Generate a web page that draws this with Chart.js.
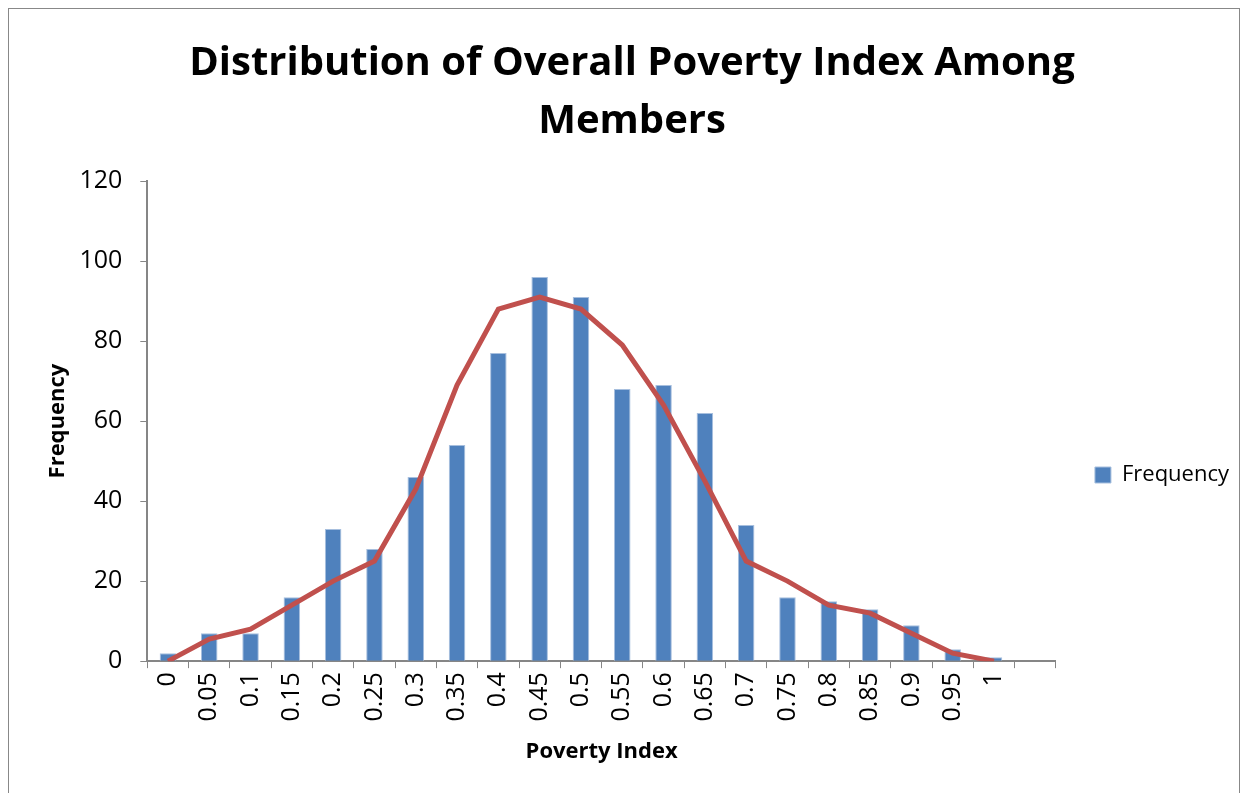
<!DOCTYPE html>
<html>
<head>
<meta charset="utf-8">
<script src="https://cdn.jsdelivr.net/npm/chart.js@4"></script>
<style>
    body { margin: 0; background: #fff; overflow: hidden; }
    #frame {
        position: absolute; left: 8px; top: 8px;
        width: 1232px; height: 800px;
        border: 1px solid #888; box-sizing: border-box;
    }
    #wrap { position: absolute; left: 9px; top: 9px; width: 1230px; height: 782px; }
</style>
</head>
<body>
<div id="frame"></div>
<div id="wrap"><canvas id="chart"></canvas></div>
<script>
// ===== DATA =====
var povertyIndex = ['0', '0.05', '0.1', '0.15', '0.2', '0.25', '0.3', '0.35', '0.4', '0.45', '0.5',
    '0.55', '0.6', '0.65', '0.7', '0.75', '0.8', '0.85', '0.9', '0.95', '1', ''];
var frequency = [2, 7, 7, 16, 33, 28, 46, 54, 77, 96, 91, 68, 69, 62, 34, 16, 15, 13, 9, 3, 1, null];
var fittedCurve = [0, 5.5, 8, 14, 20, 25, 43, 69, 88, 91, 88, 79, 64, 45, 25, 20, 14, 12, 7, 2, 0, null];
var yTicks = [0, 20, 40, 60, 80, 100, 120];

var FONT = 'Open Sans';
var axisColor = '#868686';

// ===== CHART =====
new Chart(document.getElementById('chart'), {
    data: {
        labels: povertyIndex,
        datasets: [{
            type: 'line',
            label: 'Curve',
            data: fittedCurve,
            borderColor: '#C0504D',
            borderWidth: 5,
            pointRadius: 0,
            tension: 0,
            fill: false,
            order: 0
        }, {
            type: 'bar',
            label: 'Frequency',
            data: frequency,
            backgroundColor: '#4F81BD',
            borderColor: '#A7BFDE',
            borderWidth: 1,
            barPercentage: 0.4,
            categoryPercentage: 1,
            order: 1
        }]
    },
    options: {
        responsive: true,
        maintainAspectRatio: false,
        animation: false,
        layout: { padding: { left: 16, right: 0, top: 16, bottom: 22 } },
        plugins: {
            title: {
                display: true,
                text: ['Distribution of Overall Poverty Index Among', 'Members'],
                color: '#000',
                font: { family: FONT, size: 40, weight: 'bold', lineHeight: 1.45 },
                padding: { top: 10, bottom: 30 }
            },
            legend: {
                position: 'right',
                title: { display: true, text: ' ', font: { size: 10 }, padding: { top: 0, bottom: 144 } },
                labels: {
                    filter: function(item) { return item.text === 'Frequency'; },
                    color: '#000',
                    font: { family: FONT, size: 22 },
                    boxWidth: 16, boxHeight: 16,
                    padding: 39
                }
            },
            tooltip: { enabled: false }
        },
        scales: {
            x: {
                offset: true,
                grid: { display: true, drawOnChartArea: false, color: axisColor, tickLength: 7, offset: true },
                border: { color: axisColor, width: 2 },
                ticks: {
                    color: '#000', font: { family: FONT, size: 25 },
                    maxRotation: 90, minRotation: 90, autoSkip: false, padding: 4
                },
                title: {
                    display: true, text: 'Poverty Index', color: '#000',
                    font: { family: FONT, size: 22, weight: 'bold' }, padding: { top: 13 }
                }
            },
            y: {
                min: 0, max: 120,
                afterBuildTicks: function(axis) { axis.ticks = yTicks.map(function(v) { return { value: v }; }); },
                grid: { display: true, drawOnChartArea: false, color: axisColor, tickLength: 7 },
                border: { color: axisColor, width: 2 },
                ticks: { color: '#000', font: { family: FONT, size: 25 }, padding: 18 },
                title: {
                    display: true, text: 'Frequency', color: '#000',
                    font: { family: FONT, size: 22, weight: 'bold' }, padding: { top: 20, bottom: -10 }
                }
            }
        }
    }
});
</script>
</body>
</html>
